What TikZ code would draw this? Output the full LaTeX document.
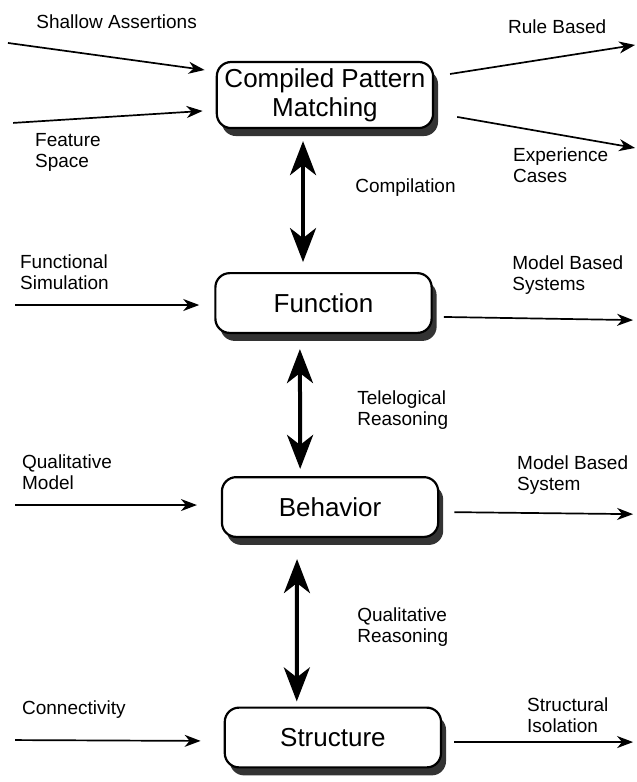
\documentclass[tikz,border=0pt]{standalone}
\usepackage{fontspec}
\setmainfont{Liberation Sans}
\usepackage{tikz}
\usetikzlibrary{arrows.meta,shadows}

\tikzset{
  layer/.style={draw, line width=2.2pt, rounded corners=0.5cm, fill=white,
    minimum width=7.6cm, minimum height=2.1cm, align=center,
    font=\fontsize{26}{29}\selectfont,
    drop shadow={shadow xshift=5pt, shadow yshift=-8pt, fill=black!80, opacity=1}},
  lbl/.style={anchor=west, inner sep=0pt, align=left, font=\fontsize{19}{21}\selectfont},
  feed/.style={line width=1.7pt, -{Stealth[length=16pt,width=12pt,inset=5pt]}},
  link/.style={line width=4pt,
    {Stealth[length=34pt,width=26pt,inset=10pt]}-{Stealth[length=34pt,width=26pt,inset=10pt]}}
}

\begin{document}
\begin{tikzpicture}
  \useasboundingbox (0,0) rectangle (22.353,-27.484);

  % the four levels
  \node[layer, minimum height=2.32cm] (pattern) at (11.42,-3.34) {Compiled Pattern\\Matching};
  \node[layer] (function) at (11.37,-10.65) {Function};
  \node[layer] (behavior) at (11.60,-17.82) {Behavior};
  \node[layer] (structure) at (11.70,-25.92) {Structure};

  % free ends of the side arrows
  \coordinate (saIn) at (0.28,-1.51);
  \coordinate (fsIn) at (0.46,-4.32);
  \coordinate (rbOut) at (22.32,-1.58);
  \coordinate (ecOut) at (22.32,-5.20);
  \coordinate (fnIn) at (0.53,-10.72);
  \coordinate (fnOut) at (22.25,-11.25);
  \coordinate (bhIn) at (0.53,-17.75);
  \coordinate (bhOut) at (22.25,-18.07);
  \coordinate (stIn) at (0.53,-26.01);
  \coordinate (stOut) at (22.25,-26.08);

  % Compiled Pattern Matching
  \node[lbl] (saLbl) at (1.27,-0.77) {Shallow Assertions};
  \node[lbl] (fsLbl) at (1.23,-5.34) {Feature\\Space};
  \node[lbl] (rbLbl) at (17.85,-0.95) {Rule Based};
  \node[lbl] (ecLbl) at (18.03,-5.80) {Experience\\Cases};
  \draw[feed] (saIn) -- ([shift={(-0.39,0.88)}]pattern.west);
  \draw[feed] (fsIn) -- ([shift={(-0.46,-0.56)}]pattern.west);
  \draw[feed] ([shift={(0.56,0.74)}]pattern.east) -- (rbOut);
  \draw[feed] ([shift={(0.81,-0.77)}]pattern.east) -- (ecOut);

  % Function
  \node[lbl] (fsimLbl) at (0.70,-9.56) {Functional\\Simulation};
  \node[lbl] (mbsLbl) at (18.00,-9.67) {Model Based\\Systems};
  \draw[feed] (fnIn) -- ([shift={(-0.53,-0.07)}]function.west);
  \draw[feed] ([shift={(0.39,-0.49)}]function.east) -- (fnOut);

  % Behavior
  \node[lbl] (qmLbl) at (0.77,-16.59) {Qualitative\\Model};
  \node[lbl] (mbLbl) at (18.17,-16.69) {Model Based\\System};
  \draw[feed] (bhIn) -- ([shift={(-0.84,0.07)}]behavior.west);
  \draw[feed] ([shift={(0.53,-0.18)}]behavior.east) -- (bhOut);

  % Structure
  \node[lbl] (conLbl) at (0.77,-24.95) {Connectivity};
  \node[lbl] (siLbl) at (18.52,-25.13) {Structural\\Isolation};
  \draw[feed] (stIn) -- ([shift={(-0.81,-0.12)}]structure.west);
  \draw[feed] ([shift={(0.42,-0.16)}]structure.east) -- (stOut);

  % links between levels
  \draw[link] ([shift={(-0.77,-0.42)}]pattern.south) -- ([shift={(-0.72,0.35)}]function.north);
  \node[lbl] (compLbl) at (12.48,-6.61) {Compilation};
  \draw[link] ([shift={(-0.83,-0.53)}]function.south) -- ([shift={(-1.05,0.25)}]behavior.north);
  \node[lbl] (telLbl) at (12.55,-14.41) {Telelogical\\Reasoning};
  \draw[link] ([shift={(-1.16,-0.74)}]behavior.south) -- ([shift={(-1.27,0.18)}]structure.north);
  \node[lbl] (qrLbl) at (12.55,-22.04) {Qualitative\\Reasoning};
\end{tikzpicture}
\end{document}
